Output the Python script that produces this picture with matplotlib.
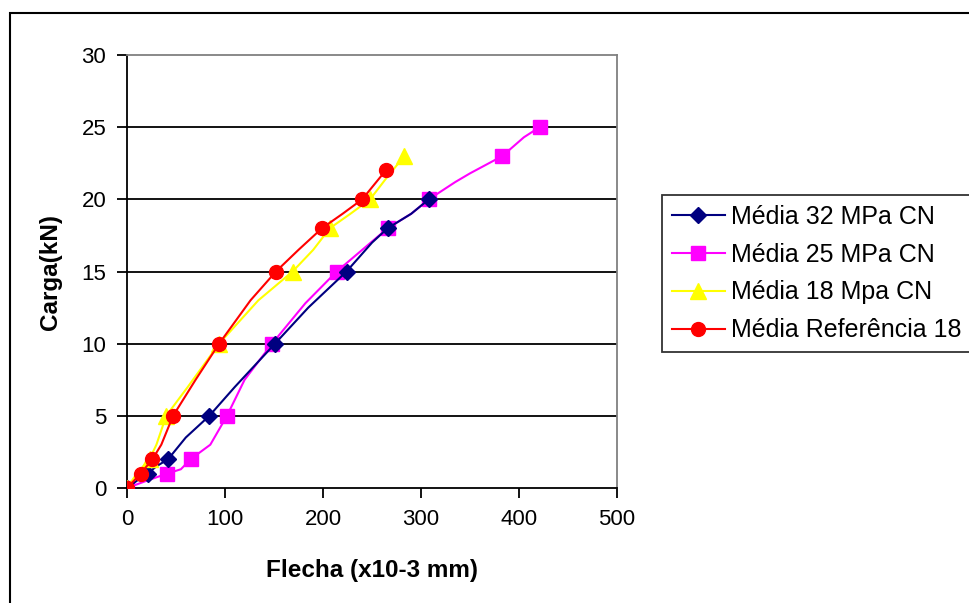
import matplotlib
matplotlib.use('Agg')
from matplotlib import pyplot as plt
from matplotlib.patches import Rectangle

plt.rcParams['font.family'] = ['Liberation Sans', 'DejaVu Sans']

# load levels (kN) and deflections (x10-3 mm); marker flags mark the measured points
flecha_32 = [0, 10, 21, 30, 42, 60, 84, 110, 151, 185, 224, 250, 266, 290, 308]
carga_32 = [0, 0.5, 1, 1.5, 2, 3.5, 5, 7, 10, 12.5, 15, 17, 18, 19, 20]
marc_32 = [0, 2, 4, 6, 8, 10, 12, 14]

flecha_25 = [0, 20, 41, 55, 65, 85, 102, 120, 148, 182, 214, 240, 266, 290, 308, 335, 350, 383, 405, 421]
carga_25 = [0, 0.5, 1, 1.3, 2, 3, 5, 7.5, 10, 12.8, 15, 16.5, 18, 19, 20, 21.2, 21.8, 23, 24.3, 25]
marc_25 = [0, 2, 4, 6, 8, 10, 12, 14, 17, 19]

flecha_18 = [0, 10, 23, 30, 40, 62, 94, 134, 169, 190, 207, 228, 248, 265, 283]
carga_18 = [0, 1, 2, 3, 5, 7, 10, 13, 15, 16.5, 18, 19, 20, 21.5, 23]
marc_18 = [0, 2, 4, 6, 8, 10, 12, 14]

flecha_ref = [0, 14, 26, 35, 47, 70, 94, 126, 152, 175, 199, 220, 240, 252, 264]
carga_ref = [0, 1, 2, 3, 5, 7.5, 10, 13, 15, 16.5, 18, 19, 20, 21, 22]
marc_ref = [0, 1, 2, 4, 6, 8, 10, 12, 14]

fig = plt.figure(figsize=(9.69, 6.03), dpi=100)
fig.patches.append(Rectangle((10 / 969, -0.1), 1.2, 1.1 - 13 / 603,
                             transform=fig.transFigure, fill=False,
                             edgecolor='black', linewidth=1.5))
ax = fig.add_axes([127 / 969, 1 - 488 / 603, 490 / 969, 433 / 603])

for y in range(5, 30, 5):
    ax.axhline(y, color='black', linewidth=1.3, zorder=1)

ax.plot(flecha_32, carga_32, color='#000080', marker='D', markersize=8,
        markevery=marc_32, linewidth=1.5, label='Média 32 MPa CN', zorder=3)
ax.plot(flecha_25, carga_25, color='#ff00ff', marker='s', markersize=9.5,
        markevery=marc_25, linewidth=1.5, label='Média 25 MPa CN', zorder=2)
ax.plot(flecha_18, carga_18, color='#ffff00', marker='^', markersize=11,
        markevery=marc_18, linewidth=1.5, label='Média 18 Mpa CN', zorder=3)
ax.plot(flecha_ref, carga_ref, color='#ff0000', marker='o', markersize=10,
        markevery=marc_ref, linewidth=1.5, label='Média Referência 18', zorder=4)

ax.set_xlim(0, 500)
ax.set_ylim(0, 30)
ax.set_xticks(range(0, 501, 100))
ax.set_yticks(range(0, 31, 5))
ax.tick_params(direction='out', length=7, width=1.3, labelsize=16, pad=8)
for side in ['left', 'bottom']:
    ax.spines[side].set_linewidth(1.3)
for side in ['top', 'right']:
    ax.spines[side].set_color('#808080')
    ax.spines[side].set_linewidth(1.3)

ax.set_xlabel('Flecha (x10-3 mm)', fontsize=17.5, fontweight='bold', labelpad=21)
ax.set_ylabel('Carga(kN)', fontsize=17.5, fontweight='bold', labelpad=14)

leg = fig.legend(loc='upper left', bbox_to_anchor=(662 / 969, 1 - 195 / 603),
                 frameon=True, fancybox=False, edgecolor='black', fontsize=18,
                 handlelength=2.1, borderpad=0.4, labelspacing=0.55,
                 handletextpad=0.25, borderaxespad=0)
leg.get_frame().set_linewidth(1.3)

plt.savefig('out.png', dpi=100)
